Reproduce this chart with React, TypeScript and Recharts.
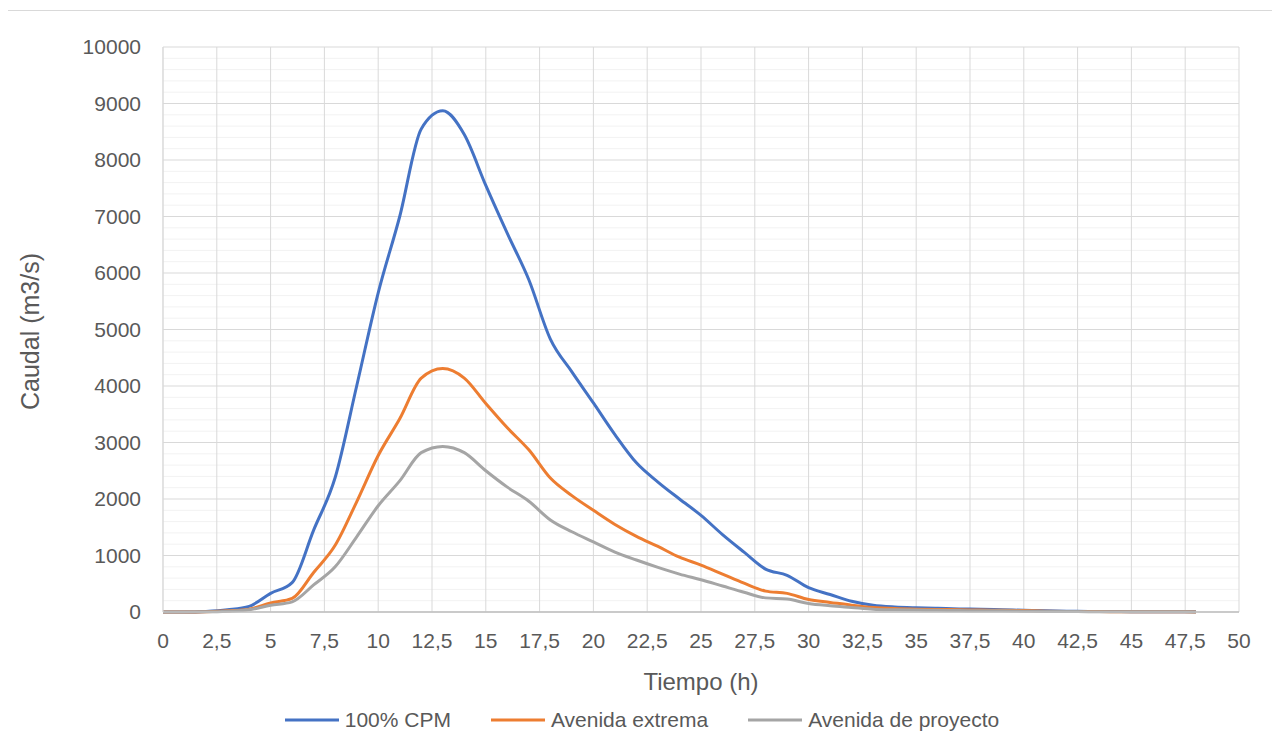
import React from 'react';
import {
  LineChart,
  Line,
  XAxis,
  YAxis,
  CartesianGrid,
  Label,
} from 'recharts';

// Hydrograph: discharge (m3/s) against time (h), hourly steps
const hours = [
  0, 1, 2, 3, 4, 5, 6, 7, 8, 9, 10, 11, 12, 13, 14, 15, 16, 17, 18, 19, 20, 21, 22, 23, 24,
  25, 26, 27, 28, 29, 30, 31, 32, 33, 34, 35, 36, 37, 38, 39, 40, 41, 42, 43, 44, 45, 46, 47, 48,
];

const cpm100 = [
  0, 0, 10, 40, 100, 330, 520, 1450, 2380, 4000, 5650, 7000, 8550, 8870, 8450, 7550, 6700, 5880,
  4830, 4250, 3700, 3140, 2640, 2300, 2000, 1710, 1370, 1060, 760, 650, 430, 310, 190, 120, 90, 75,
  65, 55, 50, 40, 30, 20, 15, 10, 8, 6, 5, 4, 3,
];

const avenidaExtrema = [
  0, 0, 5, 20, 50, 160, 240, 700, 1180, 1950, 2770, 3420, 4140, 4310, 4140, 3690, 3260, 2870, 2370,
  2060, 1800, 1550, 1340, 1160, 970, 830, 670, 510, 370, 330, 220, 170, 120, 80, 60, 50, 45, 40, 35,
  30, 25, 15, 10, 8, 6, 5, 4, 3, 2,
];

const avenidaProyecto = [
  0, 0, 3, 15, 40, 120, 180, 480, 800, 1330, 1880, 2320, 2820, 2930, 2820, 2500, 2210, 1960, 1630,
  1420, 1240, 1060, 920, 790, 670, 570, 460, 350, 250, 230, 150, 110, 80, 50, 40, 35, 30, 25, 22,
  20, 15, 10, 8, 6, 5, 4, 3, 3, 2,
];

const xTicks = [0, 2.5, 5, 7.5, 10, 12.5, 15, 17.5, 20, 22.5, 25, 27.5, 30, 32.5, 35, 37.5, 40, 42.5, 45, 47.5, 50];
const yTicks = [0, 1000, 2000, 3000, 4000, 5000, 6000, 7000, 8000, 9000, 10000];
const yMinor = yTicks.flatMap((t) => [200, 400, 600, 800].map((d) => t + d)).filter((v) => v < 10000);

const series = [
  { key: 'cpm', name: '100% CPM', color: '#4472C4' },
  { key: 'extrema', name: 'Avenida extrema', color: '#ED7D31' },
  { key: 'proyecto', name: 'Avenida de proyecto', color: '#A5A5A5' },
];

const data = hours.map((h, i) => ({
  h,
  cpm: cpm100[i],
  extrema: avenidaExtrema[i],
  proyecto: avenidaProyecto[i],
}));

const FONT = '"Liberation Sans", Arial, sans-serif';
const TEXT = '#595959';

const YTitle = ({ viewBox }: any) => {
  const cx = 24;
  const cy = viewBox.y + viewBox.height / 2 + 2;
  return (
    <text
      x={cx}
      y={cy}
      transform={`rotate(-90 ${cx} ${cy})`}
      textAnchor="middle"
      dominantBaseline="central"
      fill={TEXT}
      fontSize={25}
      fontFamily={FONT}
    >
      Caudal (m3/s)
    </text>
  );
};

const App: React.FC = () => {
  return (
    <div
      style={{
        position: 'relative',
        width: 1272,
        height: 741,
        marginLeft: -3,
        marginTop: 2,
        border: '1px solid #d9d9d9',
        background: '#fff',
        fontFamily: FONT,
      }}
    >
      <LineChart width={1272} height={741} data={data} margin={{ top: 36, right: 39, left: 0, bottom: 80 }}>
        <CartesianGrid vertical={false} horizontalValues={yMinor} stroke="#f2f2f2" strokeWidth={1} />
        <CartesianGrid stroke="#d9d9d9" strokeWidth={1} />
        <XAxis
          dataKey="h"
          type="number"
          domain={[0, 50]}
          ticks={xTicks}
          interval={0}
          height={60}
          tickSize={0}
          tickMargin={21}
          axisLine={{ stroke: '#bfbfbf', strokeWidth: 1.5 }}
          tickFormatter={(v: number) => String(v).replace('.', ',')}
          tick={{ fontSize: 21, fill: TEXT, fontFamily: FONT }}
        >
          <Label value="Tiempo (h)" position="bottom" offset={1} fill={TEXT} fontSize={24} fontFamily={FONT} />
        </XAxis>
        <YAxis
          type="number"
          domain={[0, 10000]}
          ticks={yTicks}
          interval={0}
          width={157}
          tickSize={0}
          tickMargin={22}
          axisLine={{ stroke: '#d9d9d9' }}
          tick={{ fontSize: 21, fill: TEXT, fontFamily: FONT }}
        >
          <Label content={<YTitle />} />
        </YAxis>
        {series.map((s) => (
          <Line
            key={s.key}
            type="monotone"
            dataKey={s.key}
            name={s.name}
            stroke={s.color}
            strokeWidth={3}
            dot={false}
            activeDot={false}
            isAnimationActive={false}
          />
        ))}
      </LineChart>
      <div
        style={{
          position: 'absolute',
          left: 0,
          top: 697,
          width: 1272,
          display: 'flex',
          justifyContent: 'center',
          gap: 40,
          fontSize: 21,
          color: TEXT,
        }}
      >
        {series.map((s) => (
          <div key={s.key} style={{ display: 'flex', alignItems: 'center', gap: 6 }}>
            <svg width={54} height={6}>
              <line x1={0} y1={3} x2={54} y2={3} stroke={s.color} strokeWidth={3} />
            </svg>
            <span>{s.name}</span>
          </div>
        ))}
      </div>
    </div>
  );
};

export default App;
